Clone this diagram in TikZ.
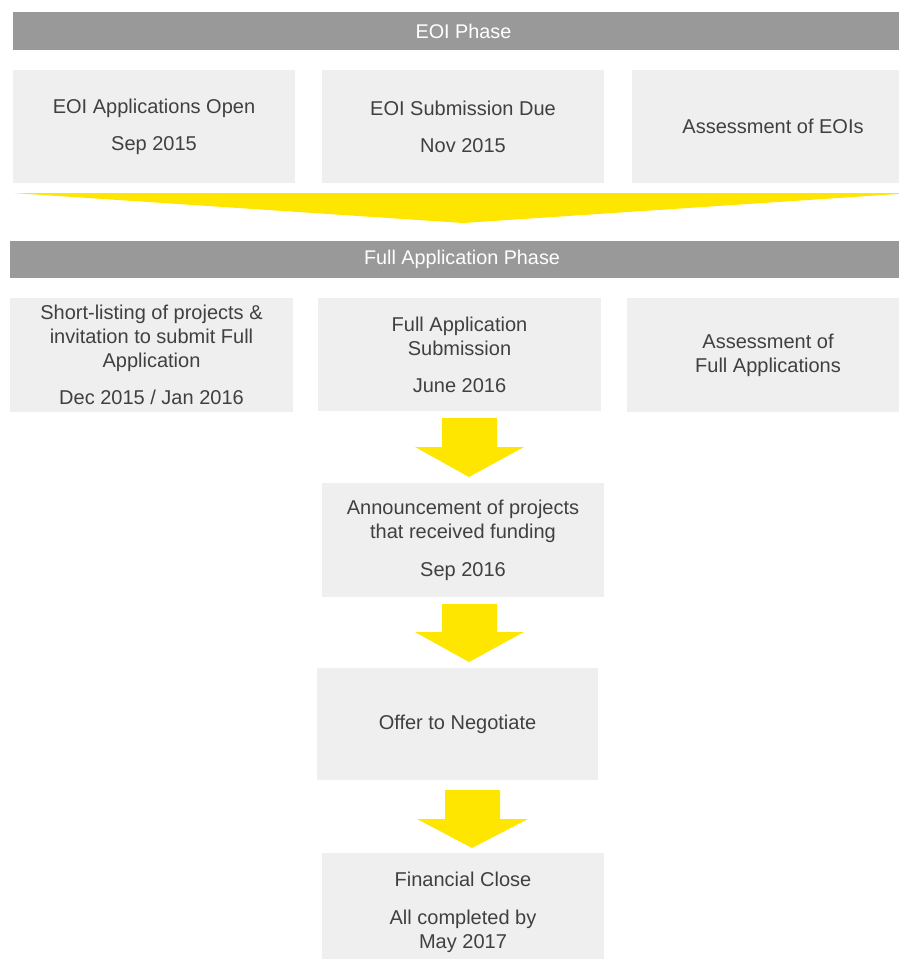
\documentclass[tikz,border=0pt]{standalone}
\usepackage{fontspec}
\setmainfont{Liberation Sans}
\definecolor{bargray}{HTML}{999999}
\definecolor{boxgray}{HTML}{EFEFEF}
\definecolor{eyyellow}{HTML}{FFE600}
\definecolor{txt}{HTML}{404040}
\newcommand{\boxfont}{\fontsize{20pt}{24pt}\selectfont}
\newcommand{\barfont}{\fontsize{19.8pt}{22pt}\selectfont}
\begin{document}
\begin{tikzpicture}[x=1pt,y=-1pt,
  box/.style={fill=boxgray, minimum width=282pt, minimum height=113pt, inner sep=0pt, align=center, text=txt, font=\boxfont},
  phasebar/.style={fill=bargray, minimum height=38pt, inner sep=0pt, text=white, font=\barfont},
  blockarrow/.style={fill=eyyellow, draw=none}]
\clip (0,0) rectangle (899,959);
\useasboundingbox (0,0) rectangle (899,959);

% EOI phase
\node[phasebar, minimum width=901pt] (eoi) at (463.5,31) {EOI Phase};
\node[box] (b1) at (154,126.5) {EOI Applications Open\\[13pt]Sep 2015};
\node[box] (b2) at (463,126.5) {EOI Submission Due\\[13pt]Nov 2015};
\node[box] (b3) at (773,126.5) {Assessment of EOIs};

% big chevron
\path[blockarrow] (13,193) -- (913,193) -- (463,223) -- cycle;

% Full application phase
\node[phasebar, minimum width=904pt, minimum height=37pt] (full) at (462,259.5) {Full Application Phase};
\node[box, minimum width=283pt, minimum height=114pt] (c1) at (151.5,355) {Short-listing of projects \&\\invitation to submit Full\\Application\\[13pt]Dec 2015 / Jan 2016};
\node[box, minimum width=283pt] (c2) at (459.5,354.5) {Full Application\\Submission\\[13pt]June 2016};
\node[box, minimum width=282pt, minimum height=114pt] (c3) at (768,355) {Assessment of\\Full Applications};

% arrow 1
\path[blockarrow] (442,418) -- (497,418) -- (497,447) -- (524,447) -- (469,477) -- (415,447) -- (442,447) -- cycle;

\node[box, minimum height=114pt] (ann) at (463,540) {Announcement of projects\\that received funding\\[14pt]Sep 2016};

% arrow 2
\path[blockarrow] (442,604) -- (497,604) -- (497,632) -- (524,632) -- (469,662) -- (415,632) -- (442,632) -- cycle;

\node[box, minimum width=281pt, minimum height=112pt] (off) at (457.5,724) {Offer to Negotiate};

% arrow 3
\path[blockarrow] (445,790) -- (500,790) -- (500,819) -- (528,819) -- (472,848) -- (417,819) -- (445,819) -- cycle;

\node[box, minimum height=118pt] (fin) at (463,912) {Financial Close\\[14pt]All completed by\\May 2017};
\end{tikzpicture}
\end{document}
